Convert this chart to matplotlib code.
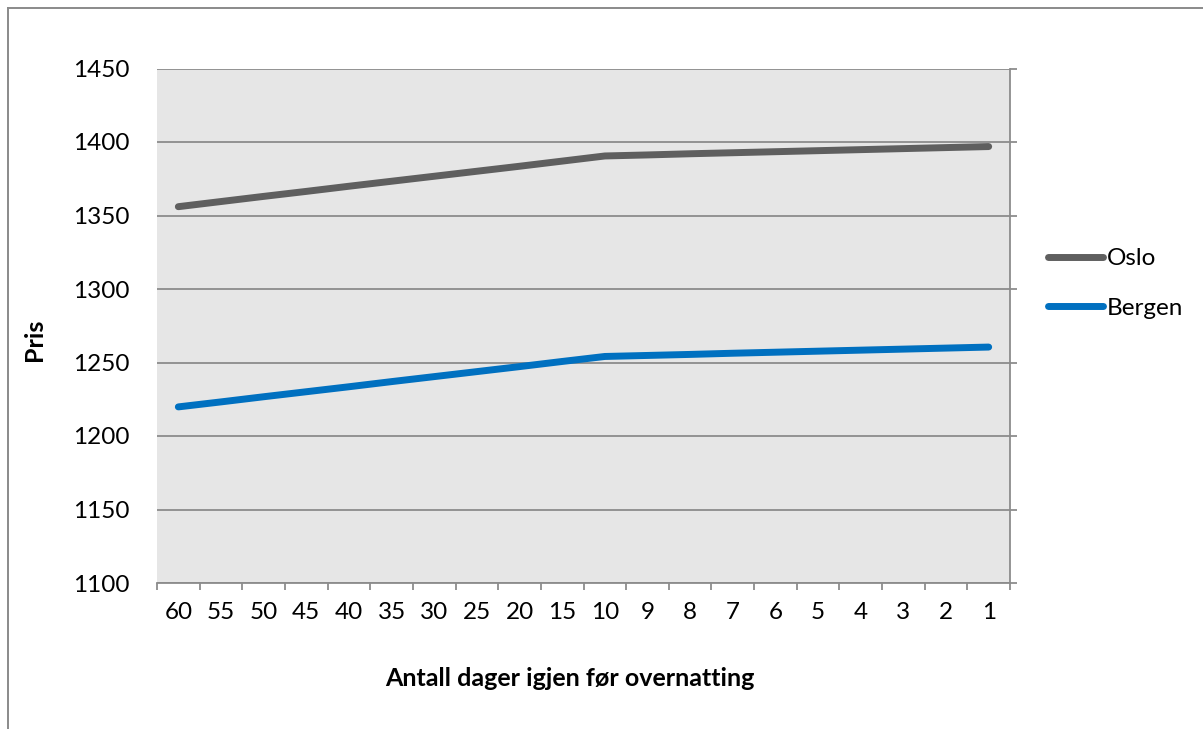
import matplotlib
matplotlib.use("Agg")
import matplotlib.pyplot as plt
from matplotlib.lines import Line2D
from matplotlib.ticker import FixedLocator, NullFormatter

plt.rcParams["font.family"] = ["Lato", "DejaVu Sans"]

# Days left before the stay (shown from 60 down to 1)
days = ["60", "55", "50", "45", "40", "35", "30", "25", "20", "15",
        "10", "9", "8", "7", "6", "5", "4", "3", "2", "1"]
oslo = [1356.0, 1359.5, 1363.0, 1366.4, 1369.9, 1373.3, 1376.7, 1380.1, 1383.5, 1387.0,
        1390.5, 1391.2, 1392.0, 1392.7, 1393.4, 1394.1, 1394.8, 1395.5, 1396.2, 1396.9]
bergen = [1219.8, 1223.2, 1226.7, 1230.1, 1233.5, 1237.0, 1240.4, 1243.8, 1247.2, 1250.7,
          1254.1, 1254.8, 1255.5, 1256.3, 1257.0, 1257.7, 1258.4, 1259.1, 1259.8, 1260.5]
yticks = [1100, 1150, 1200, 1250, 1300, 1350, 1400, 1450]

W, H = 1203, 729
fig = plt.figure(figsize=(W / 100, H / 100), dpi=100)
fig.patch.set_facecolor("white")

# outer chart frame (left and top edges)
frame_col = "#8a8a8a"
fig.add_artist(Line2D([8 / W, 8 / W], [0, 1 - 8 / H], color=frame_col, lw=1.4,
                      transform=fig.transFigure))
fig.add_artist(Line2D([8 / W, 1], [1 - 8 / H, 1 - 8 / H], color=frame_col, lw=1.4,
                      transform=fig.transFigure))

left, right, top, bottom = 157, 1010, 68.5, 583
ax = fig.add_axes([left / W, 1 - bottom / H, (right - left) / W, (bottom - top) / H])
ax.set_facecolor("#e6e6e6")

x = list(range(len(days)))
oslo_col = "#5f5f5f"
bergen_col = "#0070c0"
ax.plot(x, oslo, color=oslo_col, lw=5, solid_capstyle="round",
        solid_joinstyle="round", label="Oslo", zorder=3)
ax.plot(x, bergen, color=bergen_col, lw=5, solid_capstyle="round",
        solid_joinstyle="round", label="Bergen", zorder=3)

ax.set_xlim(-0.5, len(days) - 0.5)
ax.set_ylim(yticks[0], yticks[-1])

grid_col = "#8c8c8c"
ax.set_yticks(yticks)
ax.yaxis.grid(True, color=grid_col, lw=1.3)
ax.set_axisbelow(True)

for s in ["left", "top"]:
    ax.spines[s].set_visible(False)
ax.spines["right"].set_color(grid_col)
ax.spines["right"].set_linewidth(1.3)
ax.spines["bottom"].set_color(grid_col)
ax.spines["bottom"].set_linewidth(1.3)

fs = 17.5

# value axis: ticks drawn on the right, labels on the left
ax.tick_params(axis="y", which="major", left=False, right=True, labelleft=True,
               labelright=False, direction="out", length=5, width=1.3,
               color=grid_col, pad=14.5, labelsize=fs, labelcolor="#000000")

# category axis: labels centred, tick marks between categories
ax.xaxis.set_major_locator(FixedLocator(x))
ax.set_xticklabels(days)
ax.xaxis.set_minor_locator(FixedLocator([i - 0.5 for i in range(len(days) + 1)]))
ax.xaxis.set_minor_formatter(NullFormatter())
ax.tick_params(axis="x", which="major", length=0, pad=14, labelsize=fs,
               labelcolor="#000000")
ax.tick_params(axis="x", which="minor", length=5, width=1.3, color=grid_col,
               direction="out")

fig.text(570 / W, 1 - 678 / H, "Antall dager igjen før overnatting",
         ha="center", va="center", fontsize=18, fontweight="bold")
fig.text(35 / W, 1 - 340 / H, "Pris", ha="center", va="center",
         rotation=90, fontsize=18, fontweight="bold")

fig.legend(handles=ax.get_lines(), loc="center left",
           bbox_to_anchor=(1048 / W, 1 - 283.5 / H), frameon=False,
           borderpad=0, borderaxespad=0, handlelength=2.26,
           handletextpad=0.15, labelspacing=1.17, fontsize=fs)

fig.savefig("out.png", dpi=100)
